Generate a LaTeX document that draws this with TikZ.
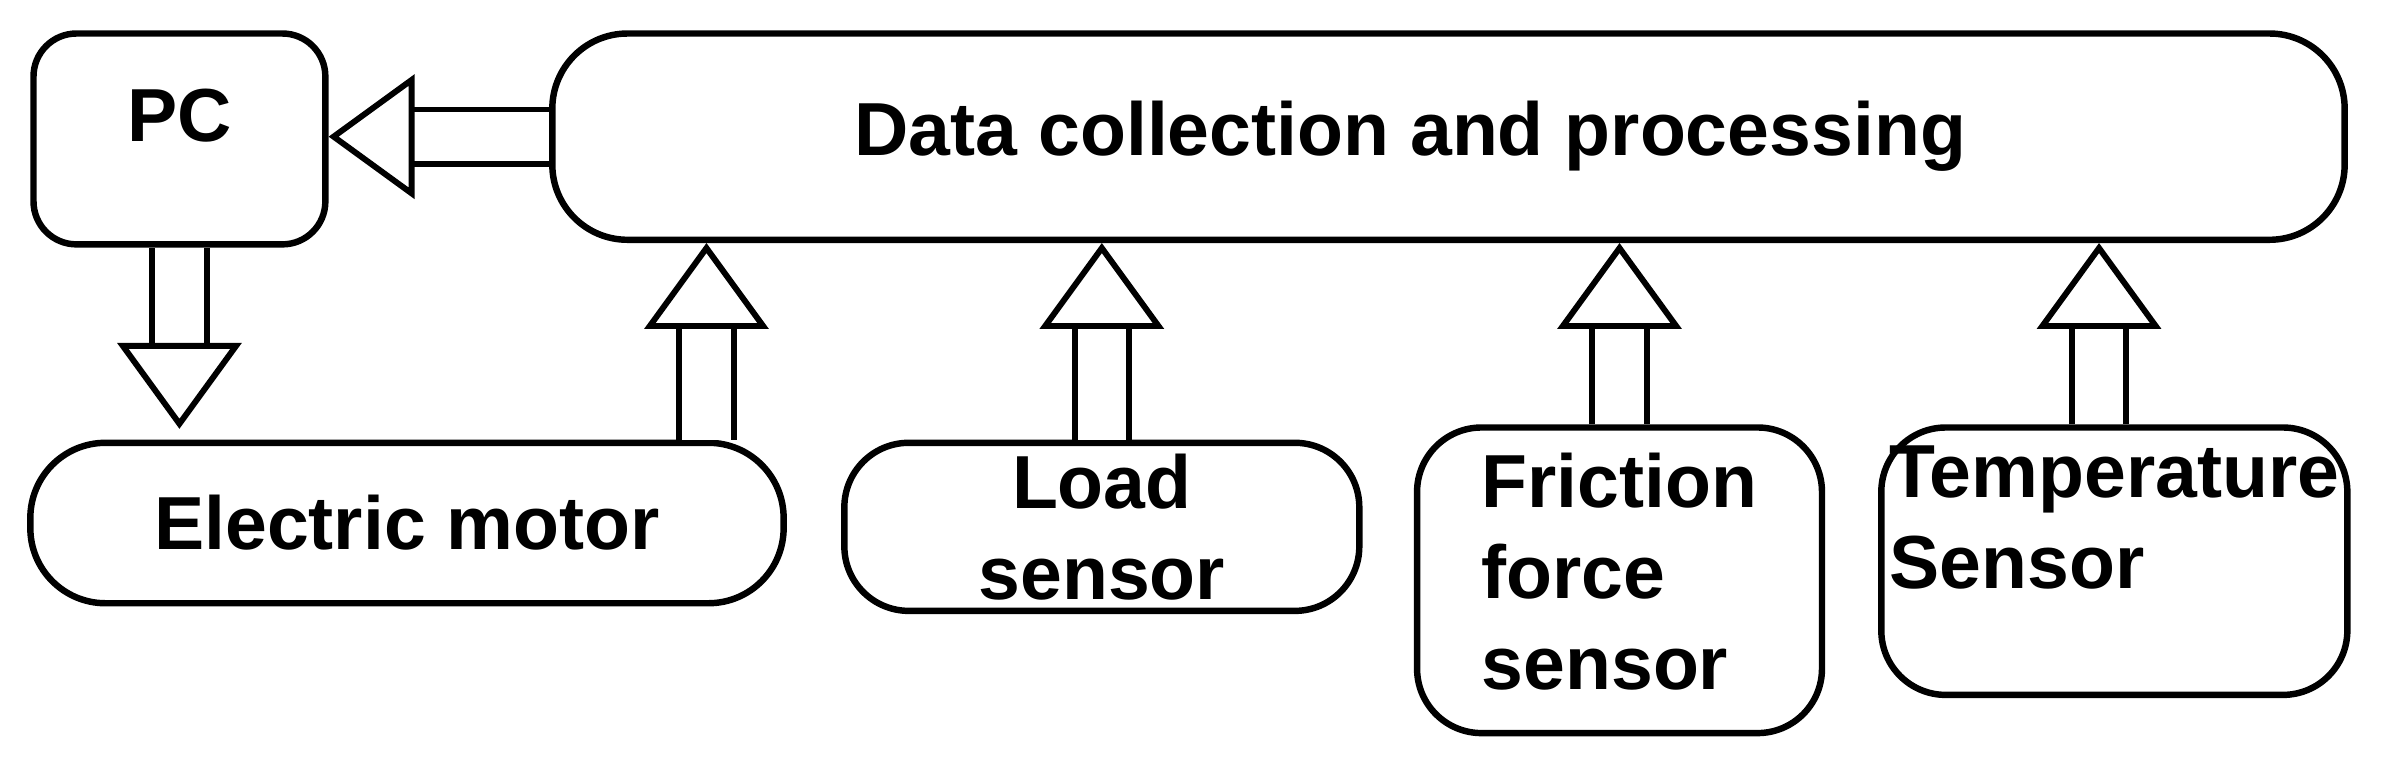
\documentclass[tikz,border=0pt]{standalone}
\usepackage{fontspec}
\setmainfont{Liberation Sans}
\usetikzlibrary{arrows.meta}
\tikzset{
  box/.style={draw, line width=1.2pt, rounded corners=#1, inner sep=0pt, align=center, font=\fontsize{14}{17}\selectfont\bfseries},
  box/.default=8pt,
  hollow/.style={line width=1.1pt, double distance=9pt, -{Triangle[open, fill=white, length=16pt, width=23pt]}}
}
\begin{document}
\begin{tikzpicture}[x=0.01cm, y=0.01cm]
\useasboundingbox (0,0) rectangle (1567,501);

%nodes
\node (pc) [box, minimum width=1.91cm, minimum height=1.38cm] at (117.5,410) {PC\\[-8pt]};
\node (data) [box=14pt, minimum width=11.73cm, minimum height=1.35cm] at (948.5,411.5) {Data collection and processing\hspace*{0.5cm}};
\node (motor) [box=14pt, minimum width=4.93cm, minimum height=1.05cm] at (266.5,158.5) {Electric motor};
\node (load) [box=12pt, minimum width=3.37cm, minimum height=1.10cm] at (721.5,156) {Load\\sensor};
\node (friction) [box=12pt, minimum width=2.65cm, minimum height=2.00cm] at (1060.5,121) {\begin{tabular}{@{}l@{}}Friction\\force\\sensor\end{tabular}};
\node (temp) [box=12pt, minimum width=3.05cm, minimum height=1.75cm] at (1384.5,133.5) {\begin{tabular}{@{}l@{}}Temperature\\Sensor\end{tabular}\\[10pt]};

%arrows
\draw [hollow] (data.west) -- (pc.east |- data.west);
\draw [hollow] (pc.south) -- ([yshift=2pt]pc.south |- motor.north);
\draw [hollow] ([xshift=1.96cm]motor.north) -- ([xshift=1.96cm]motor.north |- data.south);
\draw [hollow] (load.north) -- (load.north |- data.south);
\draw [hollow] (friction.north) -- (friction.north |- data.south);
\draw [hollow] ([xshift=-0.1cm]temp.north) -- ([xshift=-0.1cm]temp.north |- data.south);

\end{tikzpicture}
\end{document}
